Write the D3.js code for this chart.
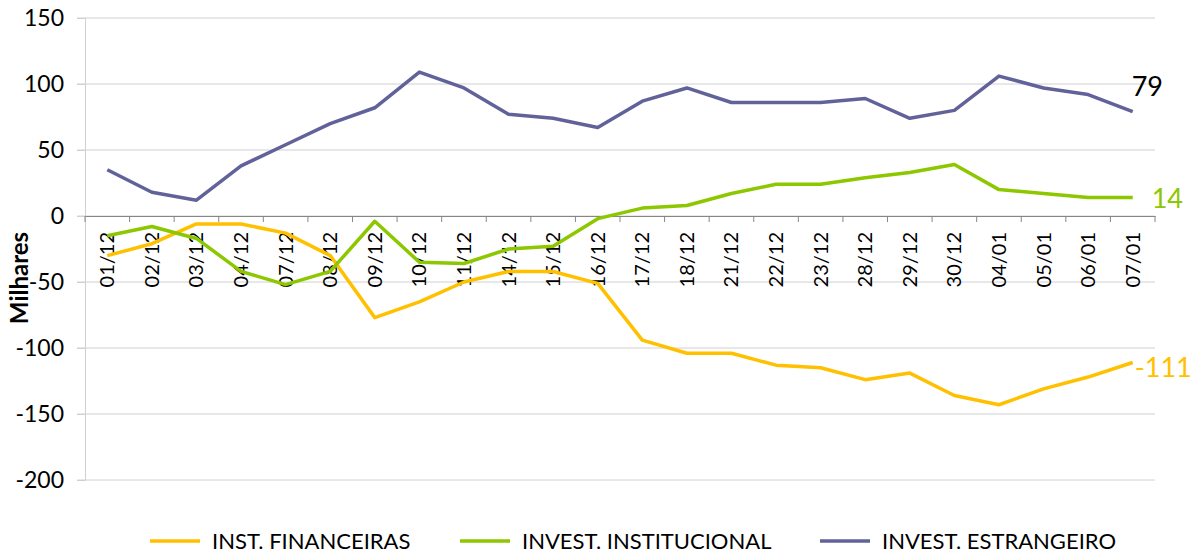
<!DOCTYPE html>
<html>
<head>
<meta charset="utf-8">
<script src="https://cdn.jsdelivr.net/npm/d3@7"></script>
<style>
  body { margin: 0; background: #fff; }
  svg { font-family: Lato, "Liberation Sans", sans-serif; }
</style>
</head>
<body>
<div id="chart"></div>
<script>
const dates = ["01/12", "02/12", "03/12", "04/12", "07/12", "08/12", "09/12", "10/12", "11/12", "14/12",
  "15/12", "16/12", "17/12", "18/12", "21/12", "22/12", "23/12", "28/12", "29/12", "30/12",
  "04/01", "05/01", "06/01", "07/01"];

const instFinanceiras = [-30, -21, -6, -6, -13, -30, -77, -65, -50, -42, -42, -51, -94, -104, -104, -113, -115, -124, -119, -136, -143, -131, -122, -111];
const investInstitucional = [-15, -8, -17, -42, -52, -42, -4, -35, -36, -25, -23, -2, 6, 8, 17, 24, 24, 29, 33, 39, 20, 17, 14, 14];
const investEstrangeiro = [35, 18, 12, 38, 54, 70, 82, 109, 97, 77, 74, 67, 87, 97, 86, 86, 86, 89, 74, 80, 106, 97, 92, 79];

const yTicks = [-200, -150, -100, -50, 0, 50, 100, 150];

const seriesNames = ["INST. FINANCEIRAS", "INVEST. INSTITUCIONAL", "INVEST. ESTRANGEIRO"];
const seriesColors = ["#FFC000", "#8CC700", "#62629A"];
const seriesValues = [instFinanceiras, investInstitucional, investEstrangeiro];

const W = 1193, H = 554;
const plot = { left: 85, right: 1155, top: 18, bottom: 480 };

const svg = d3.select("#chart")
  .append("svg")
  .attr("width", W)
  .attr("height", H);

const x = d3.scaleBand()
  .domain(dates)
  .range([plot.left, plot.right])
  .padding(0);

const y = d3.scaleLinear()
  .domain([-200, 150])
  .range([plot.bottom, plot.top]);

// linhas de grade
svg.append("g")
  .selectAll("line")
  .data(yTicks)
  .enter()
  .append("line")
  .attr("x1", plot.left - 8)
  .attr("x2", plot.right)
  .attr("y1", d => y(d))
  .attr("y2", d => y(d))
  .attr("stroke", "#d0d0d0")
  .attr("stroke-width", 1);

// eixo y
const yAxis = svg.append("g")
  .attr("transform", `translate(${plot.left},0)`)
  .call(d3.axisLeft(y).tickValues(yTicks).tickSize(8).tickFormat(d => String(d)));
yAxis.select(".domain").attr("stroke", "#d0d0d0");
yAxis.selectAll(".tick line").attr("stroke", "#d0d0d0");
yAxis.selectAll(".tick text")
  .attr("font-size", 23)
  .attr("font-family", "Lato, sans-serif")
  .attr("fill", "#000")
  .attr("x", -21);

// eixo x no zero
const xAxis = svg.append("g")
  .attr("transform", `translate(0,${y(0)})`)
  .call(d3.axisBottom(x).tickSize(0).tickFormat(""));
xAxis.select(".domain").attr("stroke", "#868686");

svg.append("g")
  .selectAll("line")
  .data(d3.range(dates.length + 1))
  .enter()
  .append("line")
  .attr("x1", i => plot.left + i * x.bandwidth())
  .attr("x2", i => plot.left + i * x.bandwidth())
  .attr("y1", y(0))
  .attr("y2", y(0) + 6)
  .attr("stroke", "#868686");

svg.append("g")
  .selectAll("text")
  .data(dates)
  .enter()
  .append("text")
  .attr("transform", d => `translate(${x(d) + x.bandwidth() / 2},${y(0) + 16}) rotate(-90)`)
  .attr("text-anchor", "end")
  .attr("dy", "0.35em")
  .attr("font-size", 20)
  .attr("fill", "#000")
  .text(d => d);

// título do eixo y
svg.append("text")
  .attr("transform", `translate(28,278) rotate(-90)`)
  .attr("text-anchor", "middle")
  .attr("font-size", 24)
  .attr("font-weight", "bold")
  .attr("fill", "#000")
  .text("Milhares");

// linhas
const line = d3.line()
  .x((d, i) => x(dates[i]) + x.bandwidth() / 2)
  .y(d => y(d));

svg.append("g")
  .selectAll("path")
  .data(seriesValues)
  .enter()
  .append("path")
  .attr("d", d => line(d))
  .attr("fill", "none")
  .attr("stroke", (d, i) => seriesColors[i])
  .attr("stroke-width", 3.5)
  .attr("stroke-linejoin", "round");

// rótulos finais
const last = dates.length - 1;
const lastX = x(dates[last]) + x.bandwidth() / 2;
svg.append("text")
  .attr("x", lastX - 1)
  .attr("y", y(investEstrangeiro[last]) - 16)
  .attr("font-size", 27)
  .attr("fill", "#000")
  .text(investEstrangeiro[last]);
svg.append("text")
  .attr("x", lastX + 19)
  .attr("y", y(investInstitucional[last]) + 10)
  .attr("font-size", 27)
  .attr("fill", seriesColors[1])
  .text(investInstitucional[last]);
svg.append("text")
  .attr("x", lastX + 2)
  .attr("y", y(instFinanceiras[last]) + 14)
  .attr("font-size", 27)
  .attr("fill", seriesColors[0])
  .text(String(instFinanceiras[last]));

// legenda
const legendX = [150, 460, 820];
const legend = svg.append("g")
  .selectAll("g")
  .data(seriesNames)
  .enter()
  .append("g")
  .attr("transform", (d, i) => `translate(${legendX[i]},541)`);

legend.append("line")
  .attr("x1", 0)
  .attr("x2", 50)
  .attr("stroke", (d, i) => seriesColors[i])
  .attr("stroke-width", 3.5);

legend.append("text")
  .attr("x", 62)
  .attr("dy", "0.36em")
  .attr("font-size", 22)
  .attr("fill", "#000")
  .text(d => d);
</script>
</body>
</html>
